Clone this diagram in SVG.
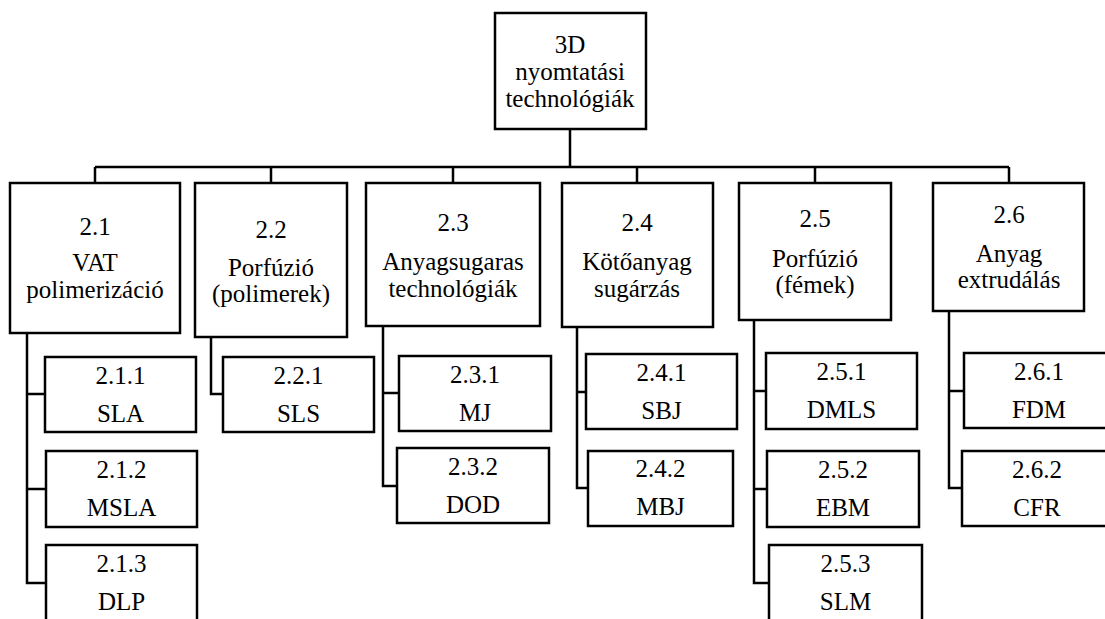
<svg xmlns="http://www.w3.org/2000/svg" width="1105" height="619" viewBox="0 0 1105 619">
<style>
.box{fill:#fff;stroke:#000;stroke-width:2.5}
.c{fill:none;stroke:#000;stroke-width:2.5}
.t text{font-size:25px;fill:#000;text-anchor:middle}
</style>
<rect width="1105" height="619" fill="#fff"/>
<g id="connectors">
<path class="c" d="M570,129V167M95,167H1009M95,167V183M271,167V183M453,167V183M637,167V183M815,167V183M1009,167V183"/>
<path class="c" d="M27,333V583H46M27,394H45M27,489H46"/>
<path class="c" d="M211,337V394H223"/>
<path class="c" d="M383,326V486H397M383,393H399"/>
<path class="c" d="M577,327V488H588M577,392H586"/>
<path class="c" d="M754,320V583H769M754,391H766M754,489H767"/>
<path class="c" d="M949,311V488H962M949,391H964"/>
</g>
<g class="t" font-family="Liberation Serif, Times New Roman, serif">
<g id="root"><rect class="box" x="495" y="13" width="151" height="116"/><text x="570" y="53">3D</text><text x="570" y="80">nyomtatási</text><text x="570" y="107">technológiák</text></g>
<g id="n21"><rect class="box" x="10" y="183" width="170" height="150"/><text x="95" y="235">2.1</text><text x="95" y="271">VAT</text><text x="95" y="298">polimerizáció</text></g>
<g id="n22"><rect class="box" x="195" y="183" width="152" height="154"/><text x="271" y="238">2.2</text><text x="271" y="276">Porfúzió</text><text x="271" y="302">(polimerek)</text></g>
<g id="n23"><rect class="box" x="366" y="183" width="174" height="143"/><text x="453" y="231">2.3</text><text x="453" y="270">Anyagsugaras</text><text x="453" y="297">technológiák</text></g>
<g id="n24"><rect class="box" x="562" y="183" width="151" height="144"/><text x="637" y="231">2.4</text><text x="637" y="270">Kötőanyag</text><text x="637" y="297">sugárzás</text></g>
<g id="n25"><rect class="box" x="739" y="183" width="152" height="137"/><text x="815" y="227">2.5</text><text x="815" y="267">Porfúzió</text><text x="815" y="293">(fémek)</text></g>
<g id="n26"><rect class="box" x="933" y="183" width="151" height="128"/><text x="1009" y="223">2.6</text><text x="1009" y="262">Anyag</text><text x="1009" y="288">extrudálás</text></g>
<g id="n211"><rect class="box" x="45" y="357" width="151" height="75"/><text x="120.5" y="384">2.1.1</text><text x="120.5" y="422">SLA</text></g>
<g id="n212"><rect class="box" x="46" y="451" width="151" height="76"/><text x="121.5" y="478">2.1.2</text><text x="121.5" y="516">MSLA</text></g>
<g id="n213"><rect class="box" x="46" y="545" width="151" height="95"/><text x="121.5" y="572">2.1.3</text><text x="121.5" y="610">DLP</text></g>
<g id="n221"><rect class="box" x="223" y="357" width="151" height="75"/><text x="298.5" y="384">2.2.1</text><text x="298.5" y="422">SLS</text></g>
<g id="n231"><rect class="box" x="399" y="356" width="152" height="75"/><text x="475" y="383">2.3.1</text><text x="475" y="421">MJ</text></g>
<g id="n232"><rect class="box" x="397" y="448" width="152" height="75"/><text x="473" y="475">2.3.2</text><text x="473" y="513">DOD</text></g>
<g id="n241"><rect class="box" x="586" y="354" width="151" height="75"/><text x="661.5" y="381">2.4.1</text><text x="661.5" y="419">SBJ</text></g>
<g id="n242"><rect class="box" x="588" y="451" width="145" height="75"/><text x="660.5" y="477">2.4.2</text><text x="660.5" y="515">MBJ</text></g>
<g id="n251"><rect class="box" x="766" y="353" width="151" height="76"/><text x="841.5" y="380">2.5.1</text><text x="841.5" y="418">DMLS</text></g>
<g id="n252"><rect class="box" x="767" y="451" width="152" height="76"/><text x="843" y="478">2.5.2</text><text x="843" y="516">EBM</text></g>
<g id="n253"><rect class="box" x="769" y="545" width="153" height="95"/><text x="845.5" y="572">2.5.3</text><text x="845.5" y="610">SLM</text></g>
<g id="n261"><rect class="box" x="964" y="353" width="150" height="75"/><text x="1039" y="380">2.6.1</text><text x="1039" y="418">FDM</text></g>
<g id="n262"><rect class="box" x="962" y="451" width="150" height="75"/><text x="1037" y="478">2.6.2</text><text x="1037" y="516">CFR</text></g>
</g>
</svg>
